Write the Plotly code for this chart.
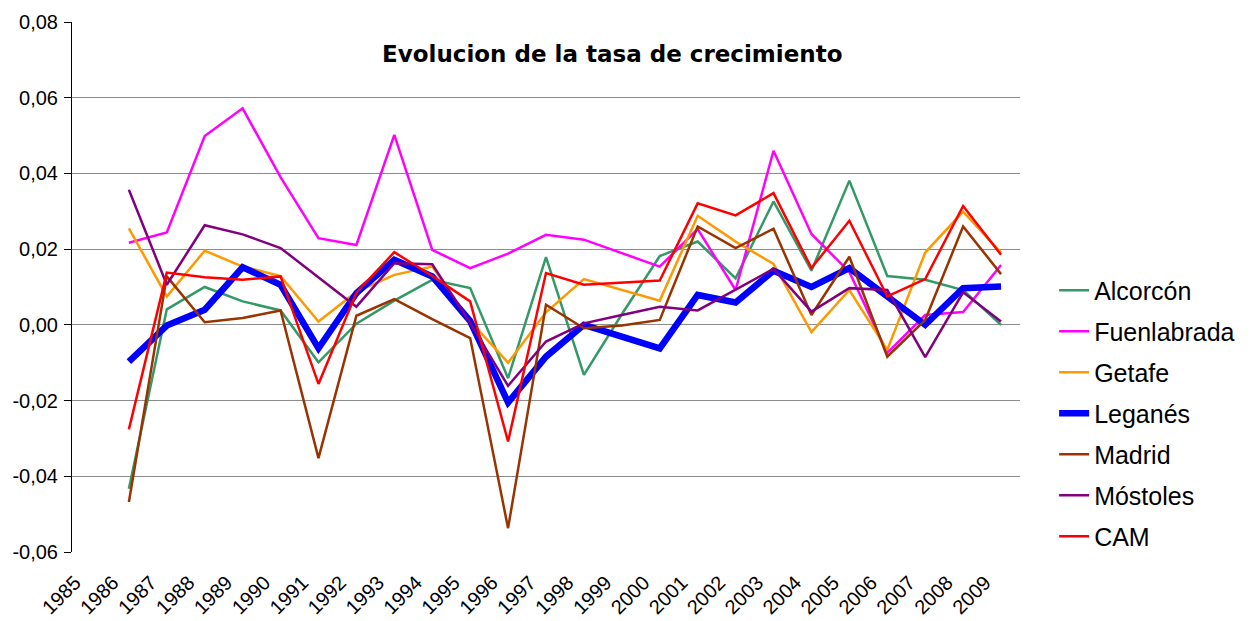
import plotly.graph_objects as go

years = [str(y) for y in range(1985, 2010)]
data_years = [str(y) for y in range(1986, 2010)]

alcorcon = [-0.0433, 0.0041, 0.0100, 0.0062, 0.0038, -0.0099, 0.0003, 0.0064, 0.0119, 0.0097,
            -0.0141, 0.0179, -0.0132, 0.0028, 0.0182, 0.0220, 0.0123, 0.0326, 0.0143, 0.0381,
            0.0129, 0.0119, 0.0092, 0.0000]
fuenlabrada = [0.0217, 0.0244, 0.0499, 0.0572, 0.0390, 0.0229, 0.0211, 0.0502, 0.0198, 0.0150,
               0.0188, 0.0238, 0.0225, 0.0190, 0.0154, 0.0253, 0.0092, 0.0460, 0.0240, 0.0140,
               -0.0074, 0.0026, 0.0034, 0.0158]
getafe = [0.0255, 0.0075, 0.0196, 0.0154, 0.0129, 0.0009, 0.0087, 0.0132, 0.0154, 0.0010,
          -0.0100, 0.0033, 0.0121, 0.0093, 0.0064, 0.0288, 0.0220, 0.0161, -0.0019, 0.0092,
          -0.0066, 0.0191, 0.0299, 0.0191]
leganes = [-0.0097, -0.0002, 0.0040, 0.0152, 0.0106, -0.0062, 0.0084, 0.0172, 0.0128, 0.0010,
           -0.0205, -0.0084, 0.0000, -0.0031, -0.0062, 0.0079, 0.0059, 0.0143, 0.0100, 0.0150,
           0.0075, 0.0000, 0.0097, 0.0101]
madrid = [-0.0468, 0.0128, 0.0007, 0.0018, 0.0038, -0.0352, 0.0024, 0.0068, 0.0015, -0.0035,
          -0.0537, 0.0053, -0.0009, -0.0002, 0.0013, 0.0260, 0.0203, 0.0254, 0.0026, 0.0180,
          -0.0084, 0.0013, 0.0260, 0.0134]
mostoles = [0.0357, 0.0106, 0.0263, 0.0239, 0.0203, 0.0125, 0.0048, 0.0163, 0.0160, 0.0005,
            -0.0161, -0.0044, 0.0004, 0.0026, 0.0048, 0.0038, 0.0092, 0.0148, 0.0035, 0.0097,
            0.0092, -0.0085, 0.0086, 0.0009]
cam = [-0.0276, 0.0138, 0.0126, 0.0119, 0.0128, -0.0156, 0.0085, 0.0192, 0.0129, 0.0062,
       -0.0308, 0.0137, 0.0106, 0.0112, 0.0117, 0.0321, 0.0289, 0.0348, 0.0150, 0.0275,
       0.0075, 0.0121, 0.0314, 0.0185]

series_names = ["Alcorcón", "Fuenlabrada", "Getafe", "Leganés", "Madrid", "Móstoles", "CAM"]
series_values = [alcorcon, fuenlabrada, getafe, leganes, madrid, mostoles, cam]
series_colors = ["#339966", "#FF00FF", "#FF9900", "#0000FF", "#993300", "#800080", "#FF0000"]
series_widths = [2.5, 2.5, 2.5, 6.5, 2.5, 2.5, 2.5]

y_ticks = [-0.06, -0.04, -0.02, 0.0, 0.02, 0.04, 0.06, 0.08]
y_ticktext = ["-0,06", "-0,04", "-0,02", "0,00", "0,02", "0,04", "0,06", "0,08"]

title_text = "Evolucion de la tasa de crecimiento"

x_num = [int(y) for y in data_years]
cat_num = [int(y) for y in years]
boundaries = [c - 0.5 for c in cat_num] + [cat_num[-1] + 0.5]
xrange = [cat_num[0] - 0.5, cat_num[-1] + 0.5]

fig = go.Figure()
for name, vals, col, w in zip(series_names, series_values, series_colors, series_widths):
    fig.add_trace(go.Scatter(x=x_num, y=vals, mode="lines", name=name,
                             legendgroup=name,
                             line=dict(color=col, width=w)))

ymin, ymax = y_ticks[0], y_ticks[-1]
zero_pos = (0 - ymin) / (ymax - ymin)

fig.update_layout(
    width=1252, height=613,
    margin=dict(l=64, r=240, t=14, b=69, autoexpand=False),
    plot_bgcolor="white", paper_bgcolor="white",
    font=dict(family="Liberation Sans, Arial, sans-serif", color="black", size=20),
    showlegend=True,
    legend=dict(x=1.036, xanchor="left", y=0.537, yanchor="top",
                font=dict(size=25, family="Liberation Sans, Arial, sans-serif"),
                tracegroupgap=5.5, bgcolor="rgba(0,0,0,0)"),
    xaxis=dict(range=xrange, tickmode="array", tickvals=cat_num, ticktext=years,
               tickangle=-45, showgrid=False, zeroline=False, showline=False, ticks="",
               tickfont=dict(size=20), ticklabelstandoff=14, ticklabelshift=-16,
               automargin=False),
    xaxis2=dict(overlaying="x", anchor="free", position=zero_pos, range=xrange,
                tickmode="array", tickvals=boundaries, ticks="outside", ticklen=6,
                tickcolor="black", showticklabels=False, showgrid=False, zeroline=False,
                showline=True, linecolor="black", linewidth=1),
    yaxis=dict(range=[ymin, ymax], tickmode="array", tickvals=y_ticks, ticktext=y_ticktext,
               showgrid=True, gridcolor="#8c8c8c", gridwidth=1, zeroline=False,
               showline=True, linecolor="black", linewidth=1, ticks="outside", ticklen=7,
               tickcolor="black", tickfont=dict(size=20), ticklabelstandoff=2,
               automargin=False),
    annotations=[dict(text="<b>" + title_text + "</b>", xref="paper", yref="paper",
                      x=(604 - 64) / 948, y=(544 - 46) / 530, xanchor="center", yanchor="middle",
                      showarrow=False,
                      font=dict(family="DejaVu Sans, Verdana, sans-serif", size=23, color="black"))],
)

fig.write_html("out.html")
